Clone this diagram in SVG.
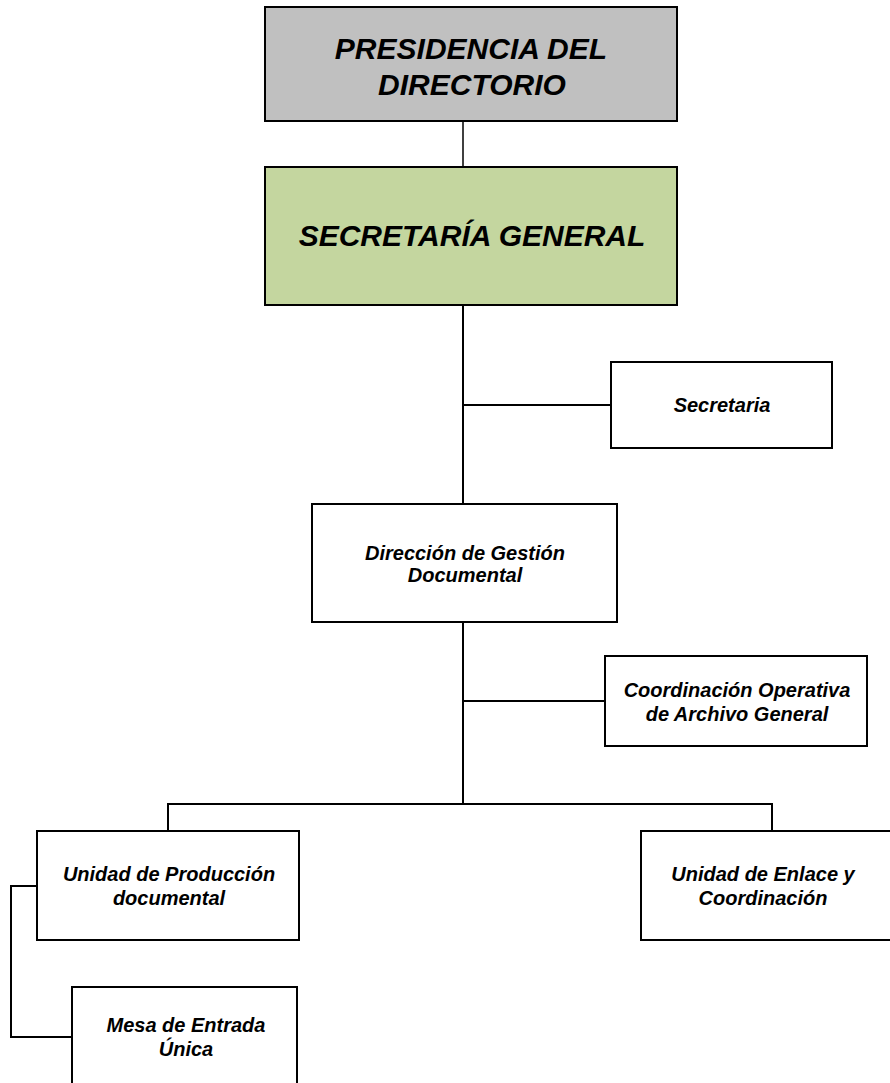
<svg xmlns="http://www.w3.org/2000/svg" width="890" height="1083" viewBox="0 0 890 1083">
<style>
.box{fill:#ffffff;stroke:#000000;stroke-width:2}
.t{font-family:"Liberation Sans",Arial,sans-serif;font-weight:bold;font-style:italic;fill:#000000;text-anchor:middle}
.big{font-size:30px}
.sm{font-size:20px}
.c{fill:none;stroke:#000000;stroke-width:2}
</style>
<rect width="890" height="1083" fill="#ffffff"/>
<g id="connectors">
<line x1="463" y1="121" x2="463" y2="167" stroke="#000" stroke-width="1.5"/>
<line class="c" x1="463" y1="305" x2="463" y2="504"/>
<line class="c" x1="463" y1="405" x2="611" y2="405"/>
<line class="c" x1="463" y1="622" x2="463" y2="804"/>
<line class="c" x1="463" y1="701" x2="605" y2="701"/>
<polyline class="c" points="168,831 168,804 772,804 772,831"/>
<polyline class="c" points="37,886 11,886 11,1037 72,1037"/>
</g>
<g id="presidencia">
<rect x="265" y="7" width="412" height="114" fill="#C0C0C0" stroke="#000" stroke-width="2"/>
<text class="t big" x="471" y="59">PRESIDENCIA DEL</text>
<text class="t big" x="472" y="95">DIRECTORIO</text>
</g>
<g id="secretaria-general">
<rect x="265" y="167" width="412" height="138" fill="#C4D69F" stroke="#000" stroke-width="2"/>
<text class="t big" x="472" y="246">SECRETARÍA GENERAL</text>
</g>
<g id="secretaria">
<rect class="box" x="611" y="362" width="221" height="86"/>
<text class="t sm" x="722" y="412">Secretaria</text>
</g>
<g id="direccion">
<rect class="box" x="312" y="504" width="305" height="118"/>
<text class="t sm" x="465" y="560">Dirección de Gestión</text>
<text class="t sm" x="465" y="582">Documental</text>
</g>
<g id="coordinacion">
<rect class="box" x="605" y="656" width="262" height="90"/>
<text class="t sm" x="737" y="697">Coordinación Operativa</text>
<text class="t sm" x="737" y="721">de Archivo General</text>
</g>
<g id="unidad-produccion">
<rect class="box" x="37" y="831" width="262" height="109"/>
<text class="t sm" x="169" y="881">Unidad de Producción</text>
<text class="t sm" x="169" y="905">documental</text>
</g>
<g id="unidad-enlace">
<rect class="box" x="641" y="831" width="252" height="109"/>
<text class="t sm" x="763" y="881">Unidad de Enlace y</text>
<text class="t sm" x="763" y="905">Coordinación</text>
</g>
<g id="mesa-entrada">
<rect class="box" x="72" y="987" width="225" height="100"/>
<text class="t sm" x="186" y="1032">Mesa de Entrada</text>
<text class="t sm" x="186" y="1056">Única</text>
</g>
</svg>
